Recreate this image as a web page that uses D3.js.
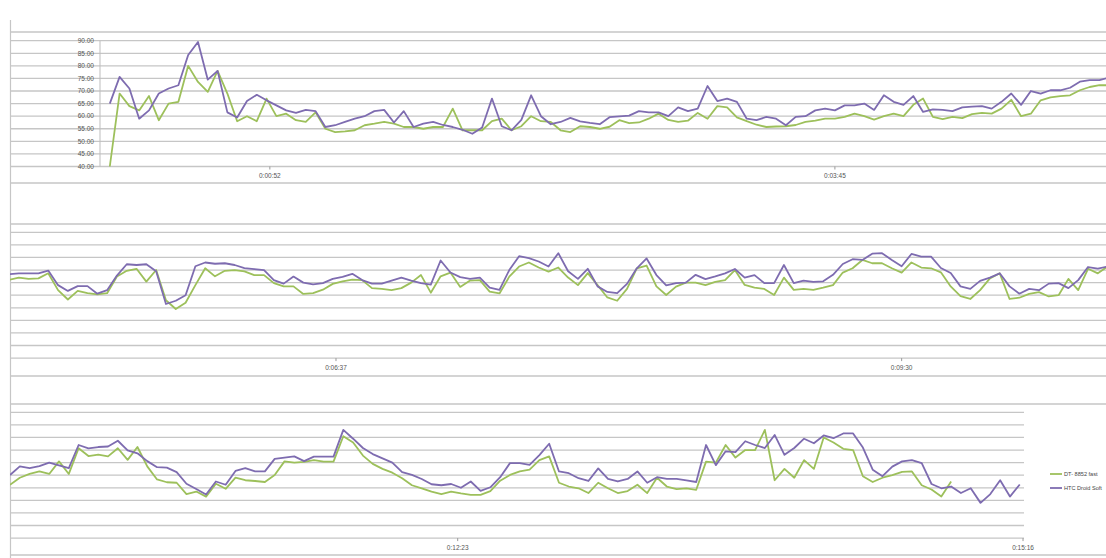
<!DOCTYPE html>
<html>
<head>
<meta charset="utf-8">
<script src="https://cdnjs.cloudflare.com/ajax/libs/d3/7.8.5/d3.min.js"></script>
<style>
  body { margin: 0; background: #fff; }
  svg { display: block; }
  text { font-family: "Liberation Sans", Arial, sans-serif; }
</style>
</head>
<body>
<div id="chart"></div>
<script>
// one reading every 3 seconds, the recording is wrapped over three strips
var sampleStep = 3
var stripStart = [3, 297, 606]   // seconds of the first reading in each strip

var dtFast1 = [40, 69, 64, 62.3, 68, 58.4, 65, 65.7, 80, 73.6, 69.7, 78, 69, 58, 60, 58, 67, 60, 61, 58.4,
  57.7, 61.5, 55, 53.7, 54, 54.4, 56.4, 57, 57.7, 57, 55.7, 55.7, 55, 55.7, 55.7, 63, 54.4, 54.4, 54.4, 58,
  59, 54.4, 56, 60, 58, 57.7, 54.4, 53.7, 56, 55.7, 55,
  55.8, 58.4, 57.2, 57.5, 59, 61, 58.5, 57.7, 58.2, 61.3, 59, 64, 63.5, 59.5, 58, 56.6, 55.7, 55.9, 56, 56.5,
  57.7, 58.2, 59, 59, 59.7, 61, 60, 58.6, 60, 61, 60, 64.5, 67, 59.7, 58.8, 59.7, 59.2, 60.8, 61.3, 61,
  63, 66.5, 60, 61, 66.3, 67.5, 68, 68.3, 70.3, 71.6, 72.3, 72.3]
var htcSoft1 = [65, 75.6, 71, 59, 62.3, 69, 71, 72.3, 84.3, 89.5, 74.5, 78, 61.5, 59.5, 66, 68.5, 66.3, 64.3, 62.3, 61.3,
  62.5, 62, 55.7, 56.4, 57.7, 59, 60, 62, 62.5, 57.5, 62, 55.7, 57, 57.7, 56.5, 55.7, 54.6, 53, 55.5, 67,
  56, 54.4, 58.5, 68.3, 60, 56.8, 57.7, 59.3, 57.9, 57.3, 56.8,
  59.6, 59.9, 60.2, 62, 61.5, 61.5, 60, 63.5, 62, 63, 72, 66, 67, 65.7, 59, 58.4, 59.7, 59, 56.4, 59.7,
  60, 62.3, 63, 62.3, 64.3, 64.3, 65, 62.5, 68.3, 65.7, 64.5, 68, 61.7, 62.7, 62.5, 62, 63.5, 63.8, 64, 63,
  65.7, 69, 64.5, 70, 69, 70.3, 70.3, 71.3, 73.7, 74.3, 74.3, 75.4]

var dtFast2 = [71.1, 72, 71.5, 71.7, 73.7, 67, 63.3, 66.7, 65.8, 65.3, 65.8, 72.4, 74.7, 75.5, 70.4, 75, 63, 59.5, 62, 69,
  75.7, 72.5, 74.7, 75, 74.5, 73, 73, 69.8, 68.5, 68.5, 65.5, 65.8, 67.2, 69.5, 70.5, 71.2, 71, 67.8, 67.5, 67,
  67.8, 70, 73, 66, 72.5, 74, 68.3, 70.8, 71, 66.4, 65.7, 72.4, 76.4, 78, 76, 74.4,
  76, 72, 69, 73.8, 69, 64.1, 62.8, 67.5, 75.7, 76.8, 68.5, 65.1, 68.4, 70, 70, 69, 70.3, 71, 75, 69.1,
  68, 67.5, 65.1, 72, 67.1, 67.5, 67.1, 68, 69, 74, 75.7, 79, 77.7, 77.7, 75.7, 74, 78, 76, 75.7, 74.1,
  68.5, 64.6, 63.5, 67, 71.7, 73.7, 63.5, 64, 65.5, 66.2, 64.5, 65, 71.5, 67, 75.5, 73.7, 76.4]
var htcSoft2 = [73.3, 73.7, 73.7, 73.7, 74.8, 69, 66.7, 68.6, 68.6, 65.6, 67, 72.8, 77.3, 77, 77.3, 74.5, 61.5, 62.8, 65, 76.5,
  78, 77.5, 77.7, 77, 75.8, 75.4, 75, 71, 69.6, 72.4, 70, 69.3, 69.8, 71.5, 72.3, 73.5, 71, 69.6, 69.6, 70.8,
  72, 70.8, 69.8, 69.2, 78.8, 74, 72.2, 71.5, 72, 68, 67.1, 75, 80.5, 79.7, 78.4, 76.4,
  81.7, 74.5, 71.5, 75.5, 68.5, 66.3, 65.8, 69.5, 75.7, 79.6, 73, 68.9, 69.8, 70, 73.1, 71.4, 72.5, 73.7, 75.4, 72,
  73, 69.8, 69.8, 77, 69.8, 70.8, 70.3, 70.5, 73.1, 77.4, 79.3, 79, 81.5, 81.7, 79, 76.5, 81.4, 80.3, 80.3, 75.8,
  73.8, 68.5, 67.5, 70.7, 72, 73.7, 68.5, 65.6, 67.5, 67, 69.6, 69.8, 67.8, 71, 76.2, 75.6, 76.4]

var dtFast3 = [61.2, 64, 65.5, 66.5, 65.5, 70.5, 65.5, 75.7, 72.6, 73.2, 72.5, 75.7, 71.1, 76.2, 68.5, 63.3, 62.2, 62, 57.5, 58.5,
  56.5, 61.6, 59.6, 64, 63, 62.7, 62.3, 65.1, 70.5, 70, 70.3, 71, 70.4, 70.4, 80.5, 78, 72.8, 69.5, 67.5, 66,
  63.8, 61, 59.8, 58.5, 57.5, 58.5, 57.8, 57.2, 57.2, 58.7, 62.8, 65.1, 66.5,
  67.2, 71, 72.5, 62, 60.5, 59.8, 57.9, 62, 59.8, 57.9, 58.7, 61.2, 57.9, 64, 60.5, 59.5, 59.8, 59.2, 70.4, 70,
  77, 72, 75, 75, 83, 63, 67.5, 64, 71, 67.5, 80, 78, 75.5, 75, 64.6, 62.3, 64, 65, 66.3, 66.5,
  61, 59.3, 56.5, 62.5]
var htcSoft3 = [65.1, 68.5, 67.8, 68.6, 70, 68.9, 67.8, 77, 75.7, 76.2, 76.4, 78.7, 74.9, 73.7, 70.6, 68.2, 68, 66.2, 61.6, 59.5,
  57.3, 62.5, 61.2, 66.7, 67.8, 66.5, 66.5, 71.5, 72, 72.5, 70.6, 72.4, 72.4, 72.4, 83, 79.5, 75.8, 73.4, 71.7, 70,
  66.2, 65.1, 63.5, 61.4, 61, 61.5, 60, 62.5, 58.8, 60.2, 64.2, 69.8, 69.8,
  69.1, 73, 77.5, 66.5, 65.8, 63.8, 62.7, 67.7, 63.5, 62.5, 63.5, 66.5, 62, 64.2, 63.5, 63.5, 62.9, 62.3, 77, 69,
  74.5, 74.2, 78.5, 77, 75.8, 81, 73.1, 75.8, 79.5, 77.7, 80.8, 79.7, 81.6, 81.6, 76, 67.2, 64.6, 68.4, 70.5, 71,
  69.8, 61.5, 59.8, 60.5, 57.9, 59.8, 54, 57.5, 63, 56.5, 61.3]

var stripTicks = [[52, 225], [397, 570], [743, 916]]   // seconds
var yTicks = [40, 45, 50, 55, 60, 65, 70, 75, 80, 85, 90]
var seriesNames = ["DT- 8852 fast", "HTC Droid Soft"]
var seriesColors = ["#9dc05b", "#7e6cb0"]

var dimensions = { width: 1106, height: 558 }

// where each strip sits on the page and which stretch of time it shows
var strips = [
  { top: 32, plotTop: 40.7, bottom: 183, x0: 100, x1: 1106, gridEnd: 1106, t0: 0, t1: 308, axis: true },
  { top: 224, plotTop: 232.3, bottom: 376, x0: 10, x1: 1106, gridEnd: 1106, t0: 297.3, t1: 632.5, axis: false },
  { top: 404, plotTop: 412.3, bottom: 555, x0: 10, x1: 1024, gridEnd: 1024, t0: 606, t1: 916.3, axis: false }
]
var plotHeight = 125.8
var series = [[dtFast1, htcSoft1], [dtFast2, htcSoft2], [dtFast3, htcSoft3]]

var pad = d3.format("02d")
var fmtTime = t => "0:" + pad(Math.floor(t / 60)) + ":" + pad(t % 60)

var wrapper = d3.select("#chart")
  .append("svg")
  .attr("width", dimensions.width)
  .attr("height", dimensions.height)

var gridColor = "#c6c6c6"

// sheet edge on the left
wrapper.append("line")
  .attr("x1", 10.5).attr("x2", 10.5)
  .attr("y1", 20).attr("y2", dimensions.height)
  .attr("stroke", gridColor).attr("stroke-width", 1.2)

strips.forEach(function(s, i) {
  var xScale = d3.scaleLinear()
    .domain([s.t0, s.t1])
    .range([s.x0, s.x1])

  var yScale = d3.scaleLinear()
    .domain([40, 90])
    .range([s.plotTop + plotHeight, s.plotTop])

  var bounds = wrapper.append("g").attr("class", "strip")

  // frame lines above and below the strip
  bounds.selectAll(".frame")
    .data([s.top, s.bottom]).enter()
    .append("line")
    .attr("class", "frame")
    .attr("x1", 10).attr("x2", dimensions.width)
    .attr("y1", d => d).attr("y2", d => d)
    .attr("stroke", gridColor).attr("stroke-width", 1.3)

  bounds.selectAll(".grid")
    .data(yTicks).enter()
    .append("line")
    .attr("class", "grid")
    .attr("x1", 10).attr("x2", s.gridEnd)
    .attr("y1", d => yScale(d)).attr("y2", d => yScale(d))
    .attr("stroke", gridColor).attr("stroke-width", 1.3)

  if (s.axis) {
    bounds.append("line")
      .attr("x1", s.x0).attr("x2", s.x0)
      .attr("y1", yScale(90)).attr("y2", yScale(40))
      .attr("stroke", "#bdbdbd").attr("stroke-width", 1)

    bounds.selectAll(".ylabel")
      .data(yTicks).enter()
      .append("text")
      .attr("class", "ylabel")
      .attr("x", s.x0 - 6)
      .attr("y", d => yScale(d))
      .attr("dy", "0.35em")
      .attr("text-anchor", "end")
      .attr("font-size", 6.5)
      .attr("fill", "#555")
      .text(d3.format(".2f"))
  }

  // time ticks under the strip
  var tickG = bounds.selectAll(".xtick")
    .data(stripTicks[i]).enter()
    .append("g")
    .attr("class", "xtick")
    .attr("transform", d => `translate(${xScale(d)},${yScale(40)})`)
  tickG.append("line")
    .attr("y1", 0).attr("y2", 3)
    .attr("stroke", "#999")
  tickG.append("text")
    .attr("y", 9.5)
    .attr("dy", "0.35em")
    .attr("text-anchor", "middle")
    .attr("font-size", 6.5)
    .attr("fill", "#555")
    .text(fmtTime)

  var clipId = "clip" + i
  wrapper.append("clipPath").attr("id", clipId)
    .append("rect")
    .attr("x", s.x0).attr("y", s.top)
    .attr("width", s.x1 - s.x0).attr("height", s.bottom - s.top)

  var lineGenerator = d3.line()
    .x(d => xScale(d.t))
    .y(d => yScale(d.v))

  series[i].forEach(function(values, j) {
    var points = values.map((v, k) => ({ t: stripStart[i] + k * sampleStep, v: v }))
    bounds.append("path")
      .datum(points)
      .attr("clip-path", `url(#${clipId})`)
      .attr("fill", "none")
      .attr("stroke", seriesColors[j])
      .attr("stroke-width", 1.8)
      .attr("stroke-linejoin", "round")
      .attr("d", lineGenerator)
  })
})

// legend beside the last strip
var legend = wrapper.selectAll(".legend")
  .data(seriesNames).enter()
  .append("g")
  .attr("class", "legend")
  .attr("transform", (d, i) => `translate(1050,${474 + i * 14})`)
legend.append("line")
  .attr("x1", 0).attr("x2", 12)
  .attr("stroke", (d, i) => seriesColors[i])
  .attr("stroke-width", 1.8)
legend.append("text")
  .attr("x", 14)
  .attr("dy", "0.35em")
  .attr("font-size", 5.6)
  .attr("fill", "#444")
  .text(d => d)
</script>
</body>
</html>
